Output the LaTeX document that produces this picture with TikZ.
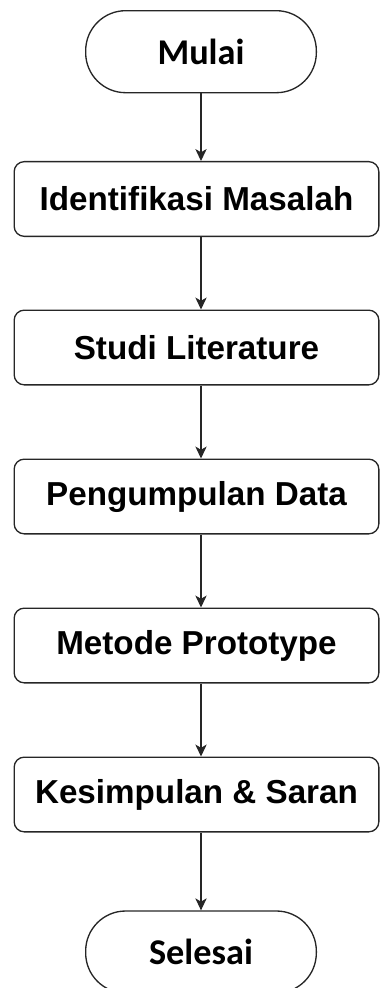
\documentclass[tikz,border=0pt]{standalone}
\usepackage{fontspec}
\setmainfont{Liberation Sans}
\newfontfamily\termfont{Carlito}
\usetikzlibrary{arrows.meta}

\begin{document}
\begin{tikzpicture}[x=0.75pt,y=-0.75pt]
                        \tikzstyle{terminal}=[draw=black!85, line width=1pt, rounded corners=30pt,
                            minimum width=173pt, minimum height=61.5pt,
                            font=\termfont\fontsize{27.2pt}{32pt}\selectfont\bfseries]
                        \tikzstyle{stepbox}=[draw=black!85, line width=1pt, rounded corners=7.5pt,
                            minimum width=273.5pt, minimum height=56pt,
                            font=\fontsize{24.9pt}{30pt}\selectfont\bfseries]
                        \tikzstyle{flow}=[draw=black!85, line width=0.9pt,
                            -{Stealth[length=9pt,width=8.5pt,inset=2.5pt]}]
                        \useasboundingbox (0,0) rectangle (380,988);
                        \node[terminal] (mulai) at (201,51.7) {Mulai};
                        \node[stepbox] (identifikasi) at (196.5,199) {Identifikasi Masalah};
                        \node[stepbox] (studi) at (196.5,347.5) {Studi Literature};
                        \node[stepbox] (pengumpulan) at (196.5,496.5) {Pengumpulan Data};
                        \node[stepbox] (metode) at (196.5,645.5) {Metode Prototype};
                        \node[stepbox] (kesimpulan) at (196.5,794.5) {Kesimpulan \& Saran};
                        \node[terminal] (selesai) at (201,952) {Selesai};
                        % connectors all run on the axis of the two terminals
                        \draw[flow] (mulai.south) -- (mulai.south |- identifikasi.north);
                        \draw[flow] (identifikasi.south -| mulai.south) -- (studi.north -| mulai.south);
                        \draw[flow] (studi.south -| mulai.south) -- (pengumpulan.north -| mulai.south);
                        \draw[flow] (pengumpulan.south -| mulai.south) -- (metode.north -| mulai.south);
                        \draw[flow] (metode.south -| mulai.south) -- (kesimpulan.north -| mulai.south);
                        \draw[flow] (kesimpulan.south -| mulai.south) -- (selesai.north);
                    \end{tikzpicture}
\end{document}
